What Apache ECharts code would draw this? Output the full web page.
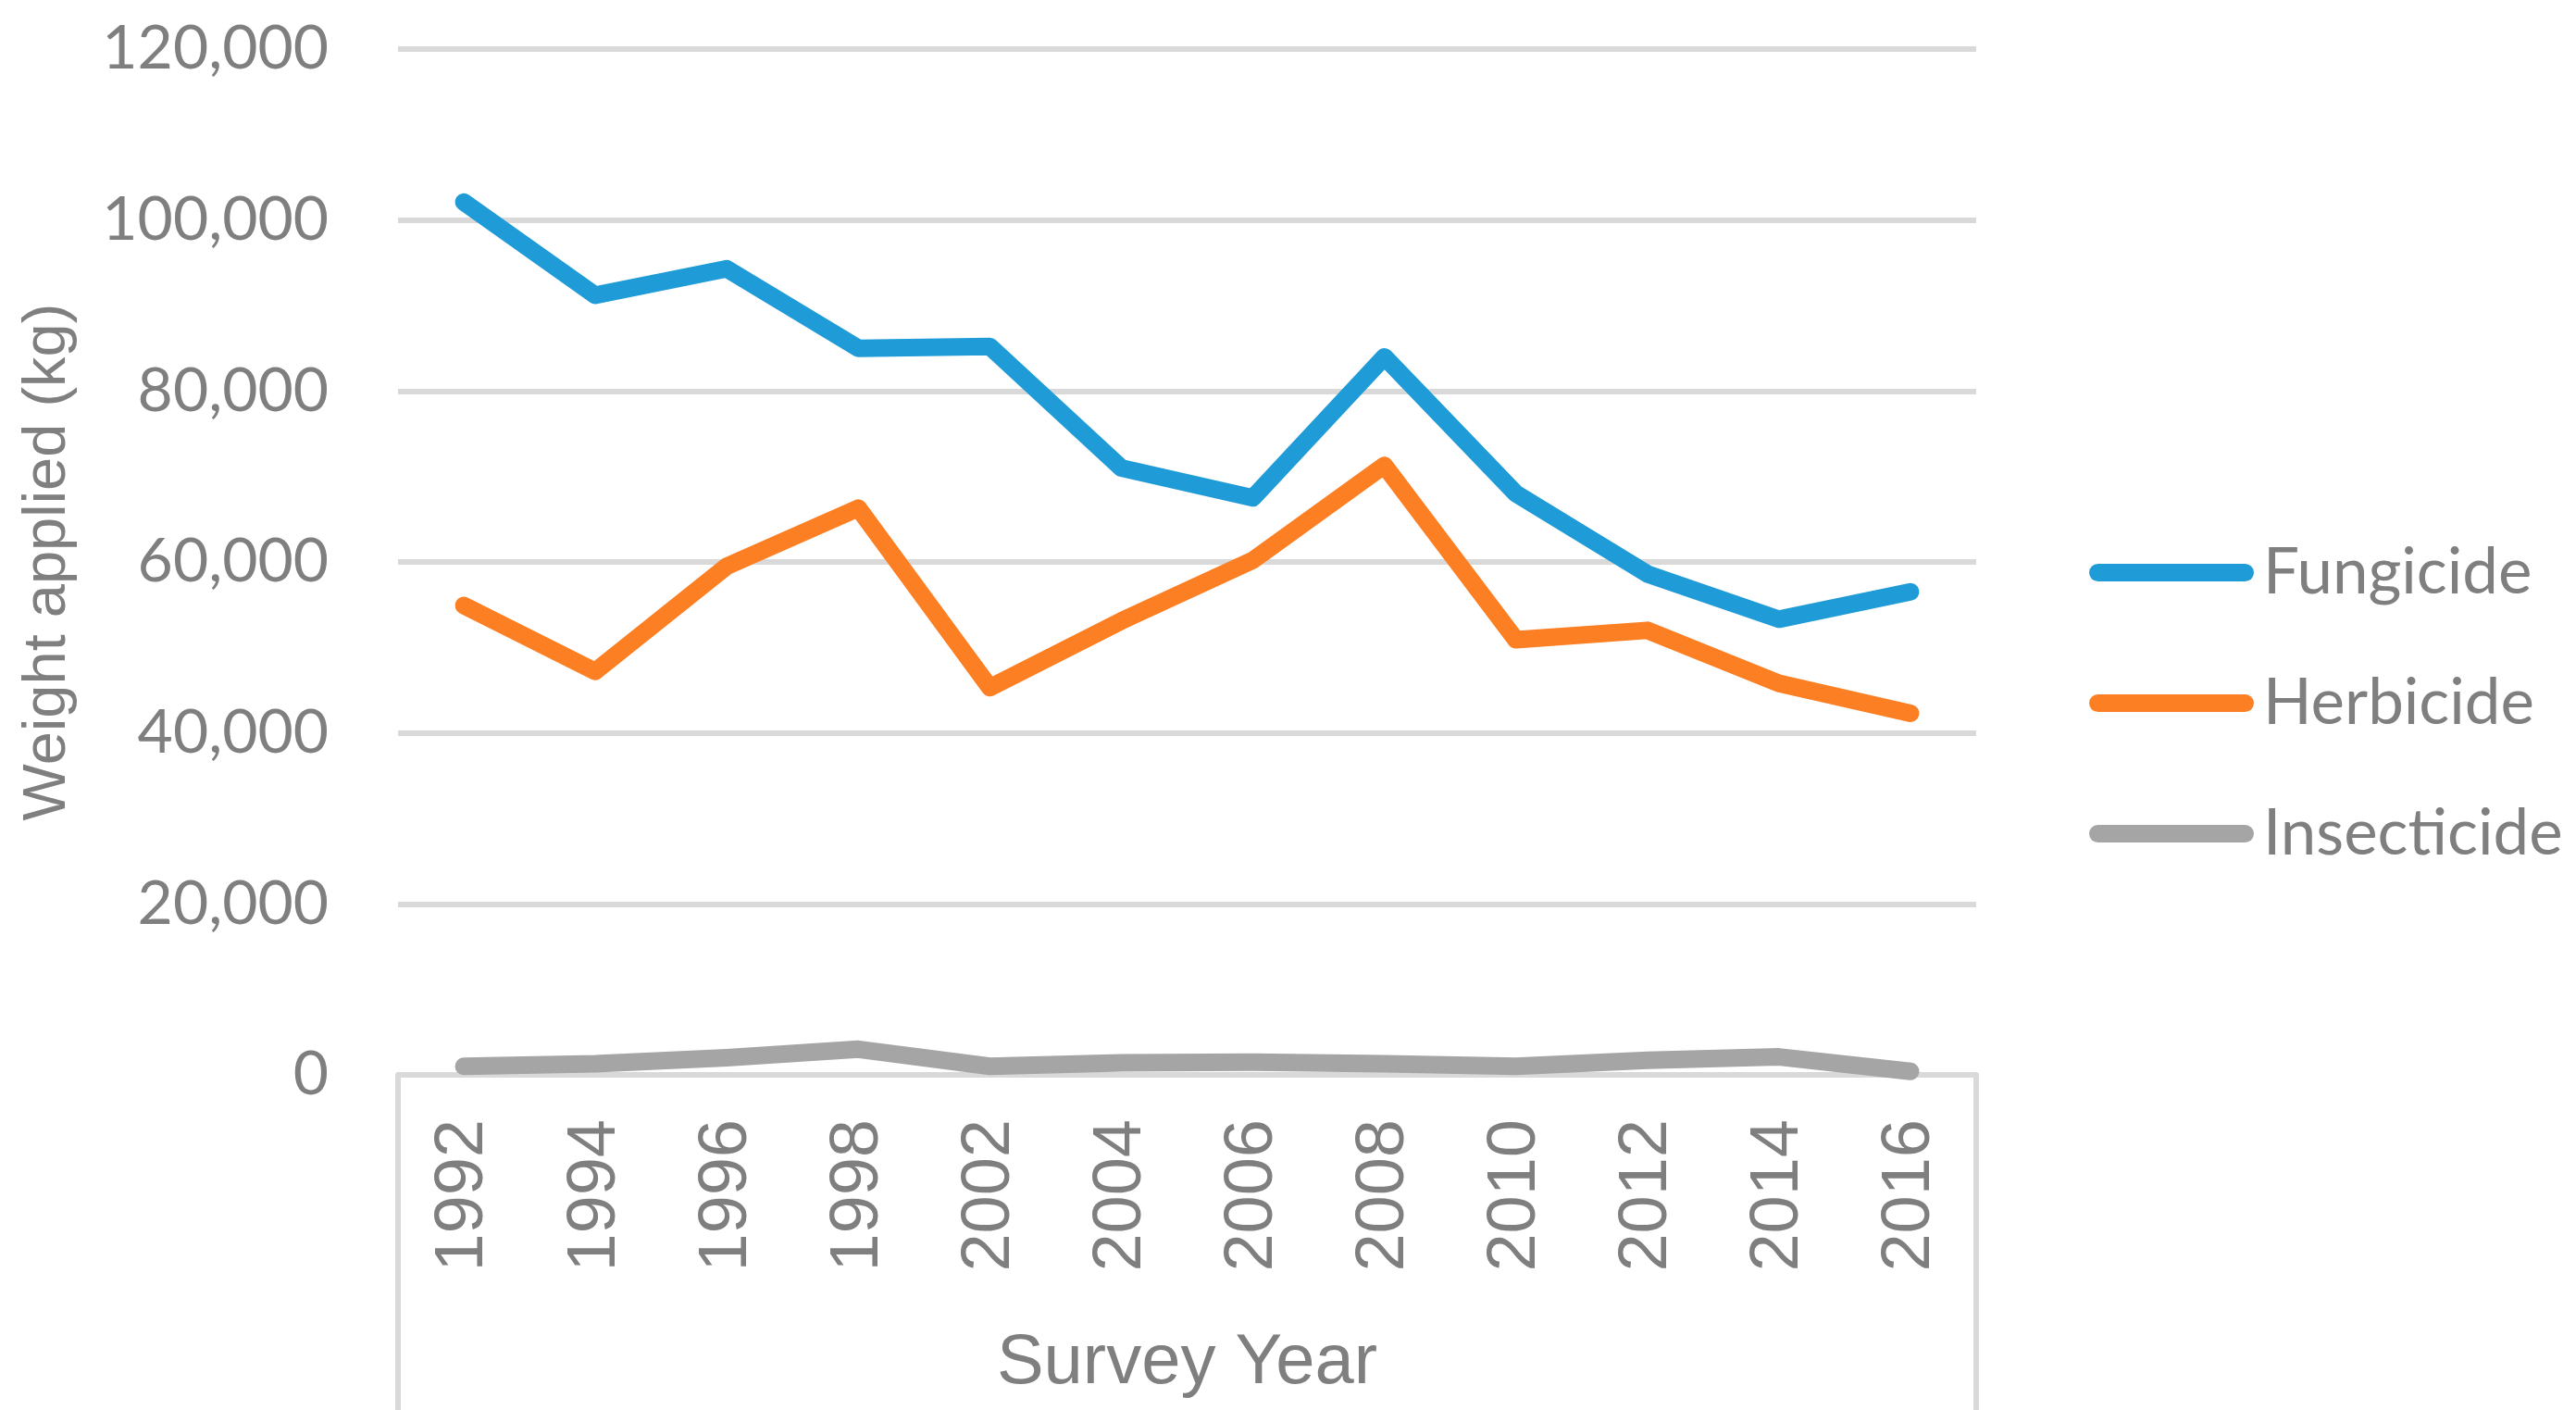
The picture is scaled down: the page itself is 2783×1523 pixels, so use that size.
<!DOCTYPE html>
<html lang="en">
<head>
    <meta charset="UTF-8">
    <title>Weight applied by survey year</title>
    <style>
        html, body { margin: 0; padding: 0; background: #fff; }
        #lineChart { width: 2783px; height: 1523px; }
    </style>
</head>
<body>
<div id="lineChart"></div>
<script src="https://cdn.jsdelivr.net/npm/echarts@6/dist/echarts.min.js"></script>
<script type="text/javascript">
    var years = ['1992', '1994', '1996', '1998', '2002', '2004', '2006', '2008', '2010', '2012', '2014', '2016'];
    var fungicide = [102100, 91200, 94300, 85000, 85200, 71000, 67500, 84000, 68000, 58600, 53300, 56500];
    var herbicide = [54900, 47200, 59500, 66300, 45300, 53100, 60200, 71300, 50900, 52000, 45800, 42300];
    var insecticide = [1000, 1300, 2000, 3000, 1000, 1400, 1500, 1300, 1000, 1700, 2100, 400];
    var yTicks = [0, 20000, 40000, 60000, 80000, 100000, 120000];
    var yTickLabels = ['0', '20,000', '40,000', '60,000', '80,000', '100,000', '120,000'];

    var textGray = '#7f7f7f';
    var lineGray = '#d9d9d9';
    // pill shaped legend key, like the office chart
    var legendKey = 'path://M9.5,0H168.5A9.5,9.5,0,0,1,168.5,19H9.5A9.5,9.5,0,0,1,9.5,0Z';

    function makeSeries(name, data, color) {
        return {
            name: name,
            type: 'line',
            data: data,
            symbol: 'none',
            showSymbol: false,
            itemStyle: { color: color },
            lineStyle: { color: color, width: 19, cap: 'round', join: 'round' }
        };
    }

    var myChart = echarts.init(document.getElementById('lineChart'));
    var option = {
        animation: false,
        backgroundColor: '#ffffff',
        grid: {
            left: 430,
            right: 648,
            top: 53,
            bottom: 362,
            containLabel: false
        },
        legend: {
            orient: 'vertical',
            left: 2257,
            top: 584,
            padding: 0,
            itemWidth: 178,
            itemHeight: 19,
            itemGap: 72,
            icon: legendKey,
            data: ['Fungicide', 'Herbicide', 'Insecticide'],
            textStyle: {
                fontFamily: 'Lato',
                fontSize: 69,
                lineHeight: 69,
                color: textGray,
                padding: [0, 0, 0, 5]
            }
        },
        xAxis: {
            type: 'category',
            data: years,
            boundaryGap: true,
            name: 'Survey Year',
            nameLocation: 'middle',
            nameGap: 274,
            nameTextStyle: {
                fontFamily: 'Liberation Sans',
                fontSize: 76,
                color: textGray
            },
            axisLine: { lineStyle: { color: lineGray, width: 6 } },
            axisTick: {
                show: true,
                length: 362,
                // only the outer edges, the lib adds the closing tick itself
                interval: function (index) { return index === 0; },
                lineStyle: { color: lineGray, width: 6 }
            },
            axisLabel: {
                rotate: 90,
                margin: 48,
                interval: 0,
                fontFamily: 'Liberation Sans',
                fontSize: 74,
                color: textGray
            },
            splitLine: { show: false }
        },
        yAxis: {
            type: 'value',
            min: 0,
            max: 120000,
            interval: 20000,
            name: 'Weight applied (kg)',
            nameLocation: 'middle',
            nameRotate: 90,
            nameGap: 345,
            nameTextStyle: {
                fontFamily: 'Liberation Sans',
                fontSize: 65,
                color: textGray
            },
            axisLine: { show: false },
            axisTick: { show: false },
            axisLabel: {
                margin: 75,
                fontFamily: 'Lato',
                fontSize: 66,
                color: textGray,
                formatter: function (v) {
                    var i = yTicks.indexOf(v);
                    return i >= 0 ? yTickLabels[i] : '';
                }
            },
            splitLine: { lineStyle: { color: lineGray, width: 6 } }
        },
        series: [
            makeSeries('Fungicide', fungicide, '#1f9cd8'),
            makeSeries('Herbicide', herbicide, '#fd7f23'),
            makeSeries('Insecticide', insecticide, '#a5a5a5')
        ]
    };
    myChart.setOption(option);
</script>
</body>
</html>
